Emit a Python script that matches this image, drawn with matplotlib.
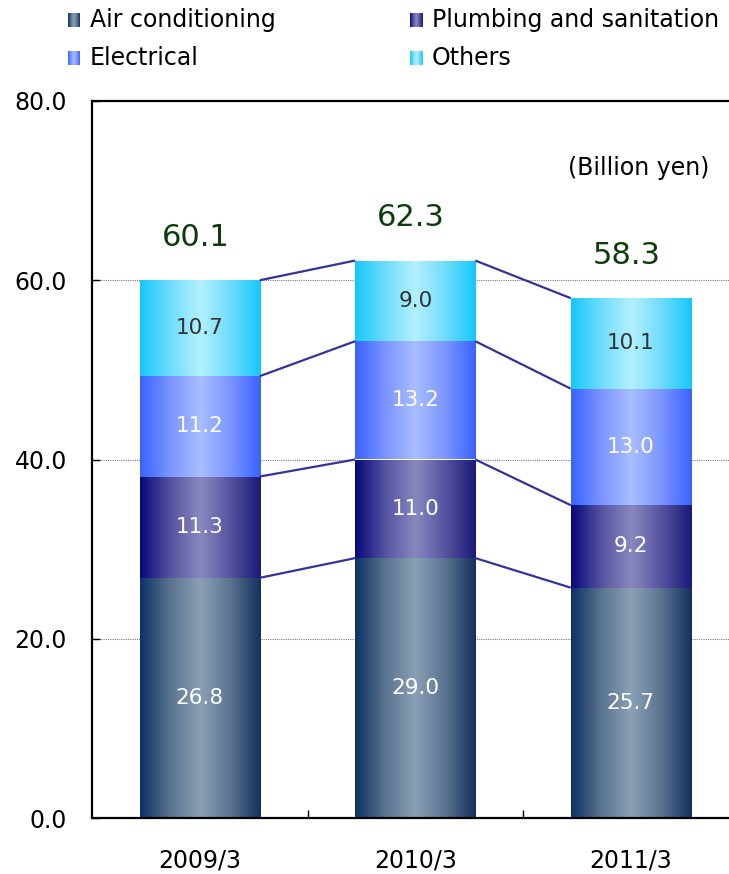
import numpy as np
import matplotlib
matplotlib.use('Agg')
import matplotlib.pyplot as plt
from matplotlib.colors import LinearSegmentedColormap

# data (billion yen)
years = ['2009/3', '2010/3', '2011/3']
series = ['Air conditioning', 'Plumbing and sanitation', 'Electrical', 'Others']
air_cond = [26.8, 29.0, 25.7]
plumbing = [11.3, 11.0, 9.2]
electrical = [11.2, 13.2, 13.0]
others = [10.7, 9.0, 10.1]
totals = [60.1, 62.3, 58.3]

values = [air_cond, plumbing, electrical, others]

# gradient colours: edge -> light centre -> edge
grads = [
    ['#0c3363', '#5a7390', '#8aa0b5', '#5a7390', '#14305e'],
    ['#08087a', '#5552a0', '#8a88c0', '#5552a0', '#1a1a78'],
    ['#3a62ff', '#7b95ff', '#a9bdff', '#7b95ff', '#3a62ff'],
    ['#14c8fa', '#6fdcfc', '#b3f0ff', '#6fdcfc', '#14c8fa'],
]
cmaps = [LinearSegmentedColormap.from_list('g%d' % i, c) for i, c in enumerate(grads)]
label_colors = ['white', 'white', 'white', '#333333']

plt.rcParams['font.family'] = 'DejaVu Sans'

W, H = 729, 874
fig = plt.figure(figsize=(W / 100, H / 100), dpi=100)
# axes extends past the right edge like the reference crop
ax = fig.add_axes([92 / W, (H - 818) / H, 646.5 / W, (818 - 101) / H])

x = np.arange(len(years))
width = 0.557
gradient = np.linspace(0, 1, 256).reshape(1, -1)

bottom = np.zeros(len(years))
levels = []
for i, vals in enumerate(values):
    bars = ax.bar(x, vals, width, bottom=bottom, color='none', edgecolor='none', zorder=2)
    for rect, v, b in zip(bars, vals, bottom):
        x0 = rect.get_x()
        im = ax.imshow(gradient, extent=[x0, x0 + rect.get_width(), b, b + v],
                       aspect='auto', cmap=cmaps[i], zorder=2)
        im.set_clip_path(rect)
        ax.text(rect.get_x() + rect.get_width() / 2, b + v / 2, '%.1f' % v,
                ha='center', va='center', fontsize=15.5, color=label_colors[i], zorder=4)
    bottom = bottom + np.array(vals)
    levels.append(bottom.copy())

# connector lines between bars
for lev in levels:
    for j in range(len(years) - 1):
        ax.plot([x[j] + width / 2, x[j + 1] - width / 2], [lev[j], lev[j + 1]],
                color='#333399', lw=1.6, zorder=3, solid_capstyle='butt')

# totals
for j, t in enumerate(totals):
    ax.annotate('%.1f' % t, (x[j] - 0.02, levels[-1][j]), xytext=(0, 31),
                textcoords='offset points', ha='center', va='center',
                fontsize=22, color='#0b3d0b')

ax.text(0.955, 0.906, '(Billion yen)', transform=ax.transAxes, ha='right',
        va='center', fontsize=17)

ax.set_xlim(-0.5, 2.5)
ax.set_ylim(0, 80)
ax.set_yticks([0, 20, 40, 60, 80])
ax.set_yticklabels(['%.1f' % v for v in [0, 20, 40, 60, 80]])
ax.set_xticks(x)
ax.set_xticklabels(years)
ax.set_xticks([0.5, 1.5], minor=True)
ax.tick_params(axis='x', which='major', length=0, pad=22, labelsize=17)
ax.tick_params(axis='x', which='minor', direction='in', length=6, width=1)
ax.tick_params(axis='y', direction='in', length=6, width=1, pad=18, labelsize=17)

for y in [20, 40, 60]:
    ax.axhline(y, color='#808080', lw=0.8, ls=(0, (1, 1)), zorder=1)

for s in ['left', 'bottom', 'top']:
    ax.spines[s].set_linewidth(1.6)
ax.spines['right'].set_visible(False)

# legend drawn by hand with gradient swatches
leg_pos = [(68, 20), (410, 20), (68, 58), (410, 58)]
for i, name in enumerate(series):
    px, py = leg_pos[i]
    sw = fig.add_axes([px / W, (H - py - 7) / H, 12 / W, 14 / H])
    sw.imshow(gradient, aspect='auto', cmap=cmaps[i])
    sw.axis('off')
    fig.text((px + 22) / W, 1 - py / H, name, ha='left', va='center', fontsize=17)

fig.savefig('out.png', dpi=100)
